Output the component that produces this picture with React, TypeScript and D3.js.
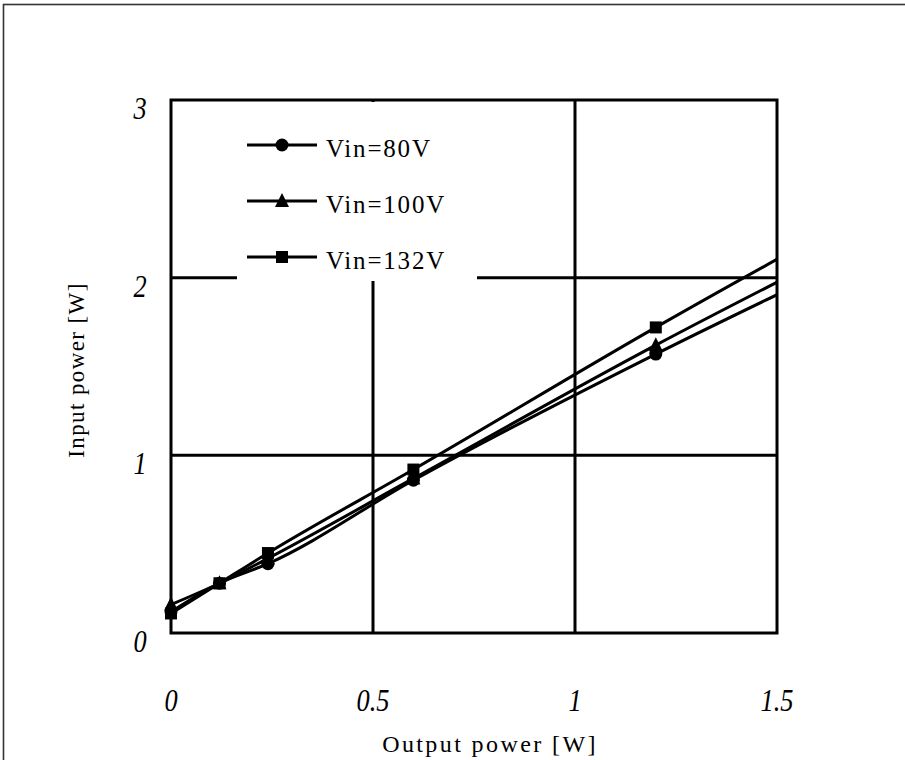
import * as d3 from 'd3';
import React from 'react';

// output power [W] at each measurement (last point lies beyond the axis and gets clipped)
const outputPower = [0, 0.12, 0.24, 0.6, 1.2, 1.8];

const vin80 = [0.12, 0.28, 0.39, 0.86, 1.57, 2.23];
const vin100 = [0.16, 0.28, 0.42, 0.87, 1.62, 2.32];
const vin132 = [0.11, 0.28, 0.45, 0.92, 1.72, 2.48];

const seriesNames = ['Vin=80V', 'Vin=100V', 'Vin=132V'];
const seriesMarkers = ['circle', 'triangle', 'square'];

const xTicks = [0, 0.5, 1, 1.5];
const yTicks = [0, 1, 2, 3];

const W = 905;
const H = 760;
const margin = {left: 171, right: 128, top: 100, bottom: 127};

const Marker = ({type, x, y}: {type: string, x: number, y: number}) => {
  if (type === 'circle') return <circle cx={x} cy={y} r={6.5} fill="#000"/>;
  if (type === 'triangle') return <path d={`M${x},${y - 8}L${x + 7},${y + 6}L${x - 7},${y + 6}Z`} fill="#000"/>;
  return <rect x={x - 6} y={y - 6} width={12} height={12} fill="#000"/>;
};

export default function App() {
  const x = d3.scaleLinear().domain([0, 1.5]).range([margin.left, W - margin.right]);
  const y = d3.scaleLinear().domain([0, 3]).range([H - margin.bottom, margin.top]);

  const series = [vin80, vin100, vin132].map((vals, i) => ({
    name: seriesNames[i],
    marker: seriesMarkers[i],
    points: outputPower.map((p, j) => [p, vals[j]] as [number, number])
  }));

  const line = d3.line<[number, number]>()
    .x(d => x(d[0]))
    .y(d => y(d[1]))
    .curve(d3.curveMonotoneX);

  const [x0, x1] = x.range();
  const [y0, y1] = y.range();

  const serif = '"Liberation Serif", "Times New Roman", serif';

  return (
    <svg width={W} height={H} style={{position: 'absolute', left: 0, top: 0, background: '#fff'}}
         fontFamily={serif}>
      <defs>
        <clipPath id="plot">
          <rect x={x0} y={y1} width={x1 - x0} height={y0 - y1}/>
        </clipPath>
      </defs>
      {/* outer frame */}
      <rect x={3.5} y={4.5} width={W} height={H} fill="none" stroke="#333" strokeWidth={1.6}/>

      {/* grid */}
      {xTicks.slice(1, -1).map(t => (
        <line key={'gx' + t} x1={x(t)} x2={x(t)} y1={y0} y2={y1} stroke="#000" strokeWidth={3}/>
      ))}
      {yTicks.slice(1, -1).map(t => (
        <line key={'gy' + t} x1={x0} x2={x1} y1={y(t)} y2={y(t)} stroke="#000" strokeWidth={3}/>
      ))}

      {/* legend (white box covers grid) */}
      <rect x={237} y={102} width={240} height={179} fill="#fff"/>
      {series.map((s, i) => {
        const ly = 145 + i * 56;
        return (
          <g key={s.name}>
            <line x1={247} x2={317} y1={ly} y2={ly} stroke="#000" strokeWidth={3}/>
            <Marker type={s.marker} x={282} y={ly}/>
            <text x={326} y={ly + 12} fontSize={25} letterSpacing={1.8}>{s.name}</text>
          </g>
        );
      })}

      {/* plot border */}
      <rect x={x0} y={y1} width={x1 - x0} height={y0 - y1} fill="none" stroke="#000" strokeWidth={3}/>

      {/* series */}
      <g clipPath="url(#plot)">
        {series.map(s => (
          <path key={s.name} d={line(s.points) || ''} fill="none" stroke="#000" strokeWidth={3}/>
        ))}
      </g>
      {series.map(s => s.points.filter(p => p[0] <= 1.5).map(p => (
        <Marker key={s.name + p[0]} type={s.marker} x={x(p[0])} y={y(p[1])}/>
      )))}

      {/* tick labels */}
      {xTicks.map(t => (
        <text key={'tx' + t} transform={`translate(${x(t)},711) scale(0.85,1)`} textAnchor="middle"
              fontSize={31} fontStyle="italic">
          {d3.format('')(t)}
        </text>
      ))}
      {yTicks.map(t => (
        <text key={'ty' + t} transform={`translate(140,${y(t) + 19}) scale(0.85,1)`} textAnchor="middle"
              fontSize={31} fontStyle="italic">
          {t}
        </text>
      ))}

      {/* axis titles */}
      <text x={490} y={752} textAnchor="middle" fontSize={24} letterSpacing={2.4}>Output power [W]</text>
      <text transform={`translate(84,370) rotate(-90)`} textAnchor="middle" fontSize={23}
            letterSpacing={1.4}>Input power [W]</text>
    </svg>
  );
}
